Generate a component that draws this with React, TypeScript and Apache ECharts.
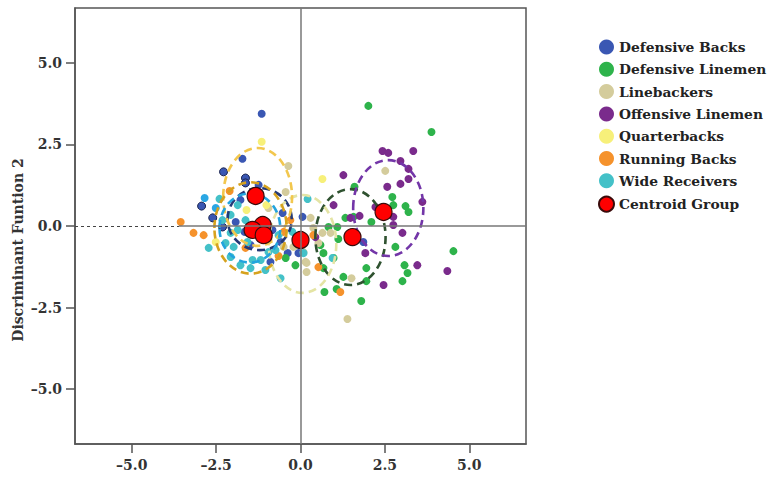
import React, { useEffect, useRef } from "react";
import * as echarts from "echarts";

const groupNames = [
  "Defensive Backs",
  "Defensive Linemen",
  "Linebackers",
  "Offensive Linemen",
  "Quarterbacks",
  "Running Backs",
  "Wide Receivers",
];
const groupColors = ["#3a57b3", "#2eb34b", "#d4cc9c", "#7a2b8c", "#f7f07a", "#f5922c", "#44c1c8"];

const defensiveBacks = [
  [-1.15, 3.44], [-1.72, 2.06], [-1.24, 1.26], [-1.92, 0.12], [-1.66, -0.18], [-1.48, -0.58],
  [-0.83, -0.12], [-0.59, -0.49], [-0.89, -1.1], [0.06, 0.28], [-0.38, -0.83], [-0.06, -0.83],
  [1.86, -0.49], [-1.78, 0.8], [-0.53, 0.4],
];
const defensiveBacksOutlined = [
  [-2.28, 1.66], [-1.63, 1.47], [-1.63, 1.32], [-2.93, 0.61], [-2.31, -0.03], [-2.6, 0.25],
];
const defensiveLinemen = [
  [2.01, 3.68], [3.88, 2.88], [1.6, 1.2], [2.72, 0.89], [2.75, 0.64], [3.11, 0.61], [2.1, 0.12],
  [1.33, 0.25], [0.83, -0.03], [1.09, -0.03], [1.12, -0.4], [0.59, -0.58], [0.68, -0.83],
  [1.95, -1.29], [3.08, -1.2], [3.17, -1.44], [3.02, -1.69], [1.27, -1.56], [1.95, -1.69],
  [0.71, -2.02], [1.07, -1.93], [1.8, -2.3], [4.53, -0.77], [-0.44, -0.98], [-0.15, -1.2],
  [0.98, -0.98], [0.68, -1.29], [1.57, 0.28], [2.81, -0.64], [3.2, 0.43],
];
const linebackers = [
  [2.51, 1.69], [1.51, -1.6], [1.39, -2.85], [0.3, 0.25], [0.18, -1.13], [0.18, -1.41],
  [-0.36, 1.84], [-0.44, 1.04], [0.65, -0.21], [0.09, -0.8], [0.15, -1.1], [0.53, -0.52],
  [-0.21, -0.64], [-0.5, -0.64], [-0.12, -0.37], [0.38, -0.06], [-0.95, 0.55], [0.89, -0.21],
  [-1.24, -0.12],
];
const offensiveLinemen = [
  [2.43, 2.3], [2.6, 2.24], [3.34, 2.3], [2.96, 1.99], [3.2, 1.75], [3.2, 1.44], [2.96, 1.29],
  [2.57, 1.2], [1.27, 1.56], [3.61, 0.74], [0.98, 0.64], [1.75, 0.31], [1.48, 0.25], [2.75, 0.28],
  [2.75, 0.03], [3.02, -0.21], [3.46, -1.2], [4.35, -1.38], [2.46, -1.81], [1.92, -0.83],
  [0.44, -0.34], [2.22, 0.58],
];
const quarterbacks = [
  [-1.15, 2.58], [0.65, 1.44], [-2.51, -0.49], [-1.33, 0.86], [-1.01, 0.64], [-1.6, 0.49],
];
const runningBacks = [
  [-3.55, 0.12], [-3.17, -0.21], [-2.87, -0.28], [-2.1, 1.07], [-0.3, 0.18], [0.38, -0.28],
  [-0.65, -0.92], [0.53, -1.26], [1.18, -2.02], [-0.95, -0.43], [-1.63, -0.67], [-0.5, -0.18],
];
const wideReceivers = [
  [-2.4, 0.83], [-1.86, 0.64], [-2.07, 0.34], [-1.86, -0.12], [-2.07, -0.21], [-2.22, -0.52],
  [-2.72, -0.67], [-2.07, -0.95], [-1.98, -0.64], [-1.57, -0.49], [-1.42, -1.04], [-1.48, -1.29],
  [-1.18, -1.04], [-0.95, -0.8], [-0.74, -0.74], [-0.59, -1.6], [0.21, 0.83], [0.95, -0.98],
  [0.09, -0.83], [-1.63, 0.18], [-2.31, 0.18], [-1.04, -1.35], [-1.78, -1.2], [-0.24, -0.18],
  [-0.65, -0.28],
];
const wideReceiversLight = [[-2.84, 0.86], [-2.51, 0.55]];

// centroids in group order
const centroids = [
  [-1.12, 0.03], [1.54, -0.34], [0.0, -0.43], [2.46, 0.43], [-1.33, 0.92], [-1.42, -0.12], [-1.09, -0.28],
];
// ellipse: cx, cy, rx, ry (data units)
const ellipses = [
  [-1.21, 0.21, 0.95, 0.95],
  [1.48, -0.34, 1.04, 1.47],
  [0.06, -0.55, 1.0, 1.5],
  [2.6, 0.55, 1.04, 1.47],
  [-1.27, 0.89, 1.02, 1.5],
  [-1.48, -0.06, 1.07, 1.4],
  [-1.5, -0.06, 0.9, 1.06],
];
const ellipseColors = ["#243a78", "#2f5230", "#e4e4a4", "#7336a8", "#f2c74e", "#d6a21e", "#23a4de"];

const tickValues = [-5, -2.5, 0, 2.5, 5];
const axisMin = -6.68;
const axisMax = 6.68;

const FONT = "'DejaVu Serif', 'Liberation Serif', serif";

export default function App() {
  const ref = useRef<HTMLDivElement>(null);
  useEffect(() => {
    document.body.style.margin = "0";
    const chart = echarts.init(ref.current!, null, { renderer: "svg" });
    const fmt = (v: number) => {
      const s = Math.abs(v).toFixed(1);
      return v < 0 ? "\u2013" + s : s;
    };
    const axisCommon = {
      type: "value" as const,
      min: axisMin,
      max: axisMax,
      splitLine: { show: false },
      axisLine: { show: true, onZero: false, lineStyle: { color: "#555", width: 1.5 } },
      axisTick: { show: true, length: 9, customValues: tickValues, lineStyle: { color: "#555", width: 1.5 } },
      axisLabel: {
        customValues: tickValues,
        formatter: fmt,
        fontFamily: FONT,
        fontWeight: "bold" as const,
        fontSize: 14,
        color: "#333",
      },
    };
    const pointSeries = groupNames.map((name, i) => {
      let data: any[] = [
        defensiveBacks,
        defensiveLinemen,
        linebackers,
        offensiveLinemen,
        quarterbacks,
        runningBacks,
        wideReceivers,
      ][i].map((p) => p);
      if (i === 0) {
        data = data.concat(
          defensiveBacksOutlined.map((p) => ({ value: p, itemStyle: { borderColor: "#1b2550", borderWidth: 1 } }))
        );
      }
      if (i === 6) {
        data = data.concat(wideReceiversLight.map((p) => ({ value: p, itemStyle: { color: "#2aa7e4" } })));
      }
      return {
        name,
        type: "scatter" as const,
        data,
        symbolSize: 8,
        itemStyle: { color: groupColors[i], opacity: 1 },
        z: 2,
      };
    });
    chart.setOption({
      animation: false,
      grid: { left: 75, right: 247, top: 8, bottom: 37, show: true, borderColor: "#555", borderWidth: 1.5 },
      xAxis: { ...axisCommon, axisLabel: { ...axisCommon.axisLabel, margin: 14 } },
      yAxis: { ...axisCommon, axisLabel: { ...axisCommon.axisLabel, margin: 13 } },
      legend: {
        orient: "vertical",
        left: 598,
        top: 39.5,
        padding: 0,
        itemWidth: 15,
        itemHeight: 15,
        itemGap: 7.3,
        icon: "circle",
        data: [...groupNames, "Centroid Group"],
        textStyle: { fontFamily: FONT, fontWeight: "bold", fontSize: 13.8, color: "#222", lineHeight: 15 },
      },
      graphic: [
        {
          type: "text",
          x: 18,
          y: 250,
          rotation: Math.PI / 2,
          style: {
            text: "Discriminant Funtion 2",
            font: `bold 14px ${FONT}`,
            fill: "#333",
            align: "center",
            verticalAlign: "middle",
          },
        },
      ],
      series: [
        {
          type: "scatter",
          name: "ref",
          data: [],
          z: 1,
          markLine: {
            silent: true,
            symbol: "none",
            label: { show: false },
            lineStyle: { color: "#777", width: 1.5, type: "solid" },
            data: [
              { xAxis: 0 },
              [{ coord: [-3.6, 0] }, { coord: [axisMax, 0] }],
              [
                { coord: [axisMin, 0], lineStyle: { color: "#444", width: 1.2, type: [3, 3] } },
                { coord: [-3.6, 0] },
              ],
            ],
          },
        },
        ...pointSeries,
        {
          type: "custom",
          name: "ellipses",
          z: 3,
          data: ellipses,
          encode: { x: 0, y: 1 },
          renderItem: (params: any, api: any) => {
            const c = api.coord([api.value(0), api.value(1)]);
            const s = api.size([api.value(2), api.value(3)]);
            return {
              type: "ellipse",
              shape: { cx: c[0], cy: c[1], rx: s[0], ry: s[1] },
              style: {
                fill: "none",
                stroke: ellipseColors[params.dataIndex],
                lineWidth: 2.6,
                lineDash: [8, 5],
              },
            };
          },
        },
        {
          type: "scatter",
          name: "Centroid Group",
          data: centroids,
          symbolSize: 17,
          z: 4,
          itemStyle: { color: "#ff0000", borderColor: "#3a0a0a", borderWidth: 1.2, opacity: 1 },
        },
      ],
    });
    return () => chart.dispose();
  }, []);
  return <div ref={ref} style={{ width: 773, height: 481 }} />;
}
